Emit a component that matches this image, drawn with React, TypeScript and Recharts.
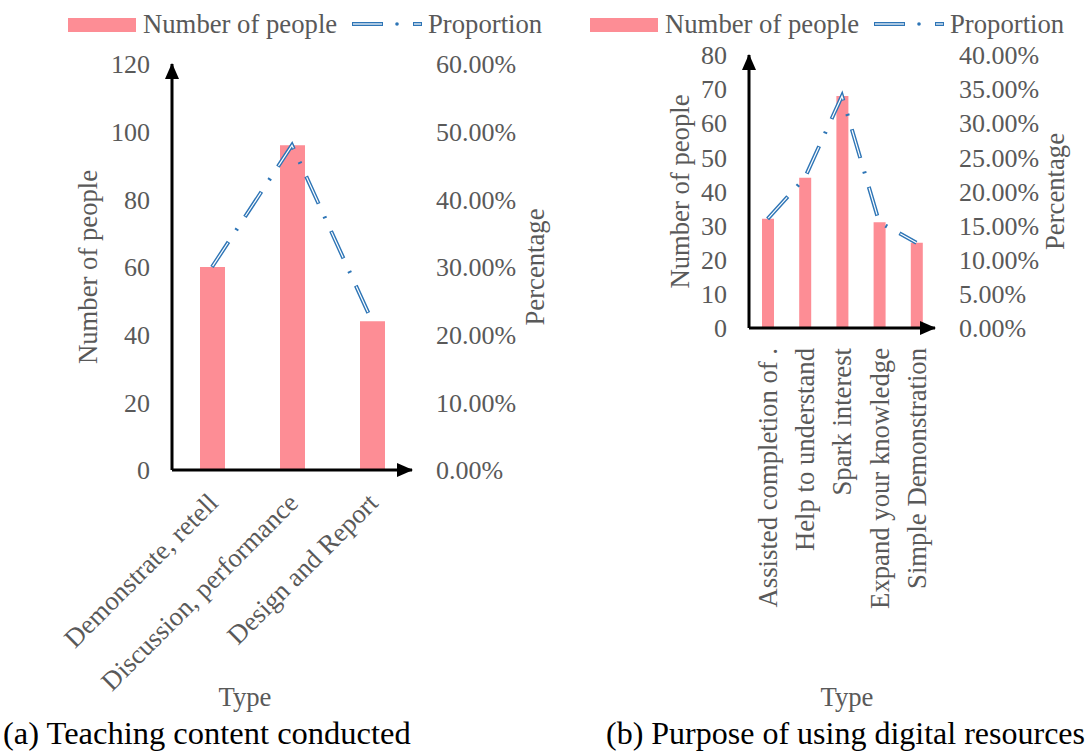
import React from "react";
import { Bar, ComposedChart, Line, XAxis, YAxis } from "recharts";

const FONT = '"Liberation Serif", "Times New Roman", serif';
const GREY = "#595959";
const PINK = "#FD8D95";
const BLUE = "#2E75B6";
const FS = 26;
const FS_TITLE = 26.7;

// panel (a)
const typesA = ["Demonstrate, retell", "Discussion, performance", "Design and Report"];
const peopleA = [60, 96, 44];
const shareA = [0.3, 0.48, 0.22];
const leftTicksA = [0, 20, 40, 60, 80, 100, 120];
const rightTicksA = [0, 0.1, 0.2, 0.3, 0.4, 0.5, 0.6];

// panel (b)
const typesB = [
  "Assisted completion of .",
  "Help to understand",
  "Spark interest",
  "Expand your knowledge",
  "Simple Demonstration",
];
const peopleB = [32, 44, 68, 31, 25];
const shareB = [0.16, 0.22, 0.34, 0.155, 0.125];
const leftTicksB = [0, 10, 20, 30, 40, 50, 60, 70, 80];
const rightTicksB = [0, 0.05, 0.1, 0.15, 0.2, 0.25, 0.3, 0.35, 0.4];

const pct = (v: number) => `${(v * 100).toFixed(2)}%`;
const textStyle = { fill: GREY, fontSize: FS, fontFamily: FONT };
const titleStyle = { fill: GREY, fontSize: FS_TITLE, fontFamily: FONT };

const vLabel = (text: string, dx: number) => (props: any) => {
  const { x, y, width, height } = props.viewBox;
  const cx = x + width / 2 + dx;
  const cy = y + height / 2;
  return (
    <text
      x={cx}
      y={cy}
      transform={`rotate(-90 ${cx} ${cy})`}
      textAnchor="middle"
      dominantBaseline="central"
      {...titleStyle}
    >
      {text}
    </text>
  );
};

const typeLabel = (dx: number) => (props: any) => {
  const { x, y, width, height } = props.viewBox;
  return (
    <text x={x + width / 2 + dx} y={y + height - 4} textAnchor="middle" {...titleStyle}>
      Type
    </text>
  );
};

const TickA = (props: any) => {
  const x = props.x + 1;
  const y = props.y + 20;
  return (
    <text x={x} y={y} transform={`rotate(-45 ${x} ${y})`} textAnchor="end" dy="0.35em" {...titleStyle}>
      {props.payload.value}
    </text>
  );
};

const TickB = (props: any) => {
  const x = props.x;
  const y = props.y + 12;
  return (
    <text x={x} y={y} transform={`rotate(-90 ${x} ${y})`} textAnchor="end" dy="0.35em" {...titleStyle}>
      {props.payload.value}
    </text>
  );
};

interface PanelProps {
  id: string;
  types: string[];
  people: number[];
  share: number[];
  leftTicks: number[];
  rightTicks: number[];
  width: number;
  top: number;
  leftW: number;
  rightW: number;
  xH: number;
  barSize: number;
  tick: any;
  leftDx: number;
  rightDx: number;
  typeDx: number;
}

function Panel(p: PanelProps) {
  const data = p.types.map((t, i) => ({ type: t, people: p.people[i], share: p.share[i] }));
  return (
    <ComposedChart
      width={p.width}
      height={751}
      data={data}
      margin={{ top: p.top, right: 0, bottom: 41, left: 0 }}
    >
      <defs>
        <marker
          id={`arrow-${p.id}`}
          viewBox="0 0 16 14"
          refX={15}
          refY={7}
          markerWidth={16}
          markerHeight={14}
          markerUnits="userSpaceOnUse"
          orient="auto-start-reverse"
        >
          <path d="M0,0 L16,7 L0,14 z" fill="#000" />
        </marker>
      </defs>
      <XAxis
        dataKey="type"
        height={p.xH}
        interval={0}
        tickLine={false}
        axisLine={{ stroke: "#000", strokeWidth: 3, markerEnd: `url(#arrow-${p.id})` }}
        tick={p.tick}
        label={typeLabel(p.typeDx)}
      />
      <YAxis
        yAxisId="left"
        width={p.leftW}
        domain={[0, p.leftTicks[p.leftTicks.length - 1]]}
        ticks={p.leftTicks}
        interval={0}
        tickLine={false}
        tickSize={0}
        tickMargin={22}
        axisLine={{ stroke: "#000", strokeWidth: 3, markerStart: `url(#arrow-${p.id})` }}
        tick={textStyle}
        label={vLabel("Number of people", p.leftDx)}
      />
      <YAxis
        yAxisId="right"
        orientation="right"
        width={p.rightW}
        domain={[0, p.rightTicks[p.rightTicks.length - 1]]}
        ticks={p.rightTicks}
        interval={0}
        tickLine={false}
        tickSize={0}
        tickMargin={24}
        axisLine={false}
        tickFormatter={pct}
        tick={{ ...textStyle, textAnchor: "start" }}
        label={vLabel("Percentage", p.rightDx)}
      />
      <Bar yAxisId="left" dataKey="people" fill={PINK} barSize={p.barSize} isAnimationActive={false} />
      <Line
        yAxisId="right"
        dataKey="share"
        type="linear"
        stroke={BLUE}
        strokeWidth={4}
        strokeDasharray="30 14 2 14"
        dot={false}
        activeDot={false}
        isAnimationActive={false}
      />
      <Line
        yAxisId="right"
        dataKey="share"
        type="linear"
        stroke="#fff"
        strokeWidth={1.2}
        strokeDasharray="28 32"
        strokeDashoffset={-1}
        dot={false}
        activeDot={false}
        isAnimationActive={false}
      />
    </ComposedChart>
  );
}

function LegendItems({ x }: { x: number }) {
  return (
    <g>
      <rect x={x} y={18} width={68} height={14} fill={PINK} />
      <text x={x + 75} y={33} {...titleStyle}>
        Number of people
      </text>
      <g transform={`translate(${x + 284}, 24)`}>
        <line x1={0} y1={0} x2={31} y2={0} stroke={BLUE} strokeWidth={4} />
        <line x1={1} y1={0} x2={30} y2={0} stroke="#fff" strokeWidth={1.2} />
        <circle cx={45} cy={0} r={1.8} fill={BLUE} />
        <line x1={61} y1={0} x2={70} y2={0} stroke={BLUE} strokeWidth={4} />
        <line x1={62} y1={0} x2={69} y2={0} stroke="#fff" strokeWidth={1.2} />
      </g>
      <text x={x + 360} y={33} {...titleStyle}>
        Proportion
      </text>
    </g>
  );
}

export default function App() {
  return (
    <div style={{ position: "absolute", left: 0, top: 0, width: 1089, height: 751, background: "#fff" }}>
      <div style={{ position: "absolute", left: 0, top: 0 }}>
        <Panel
          id="a"
          types={typesA}
          people={peopleA}
          share={shareA}
          leftTicks={leftTicksA}
          rightTicks={rightTicksA}
          width={560}
          top={64}
          leftW={172}
          rightW={148}
          xH={240}
          barSize={25}
          tick={TickA}
          leftDx={2}
          rightDx={49}
          typeDx={-47}
        />
      </div>
      <div style={{ position: "absolute", left: 560, top: 0 }}>
        <Panel
          id="b"
          types={typesB}
          people={peopleB}
          share={shareB}
          leftTicks={leftTicksB}
          rightTicks={rightTicksB}
          width={529}
          top={55}
          leftW={189}
          rightW={154}
          xH={382}
          barSize={12}
          tick={TickB}
          leftDx={25}
          rightDx={43}
          typeDx={5}
        />
      </div>
      <svg
        width={1089}
        height={751}
        style={{ position: "absolute", left: 0, top: 0, pointerEvents: "none" }}
      >
        <LegendItems x={68} />
        <LegendItems x={590} />
        <text x={3} y={744} fontFamily={FONT} fontSize={32.5} fill="#000">
          (a) Teaching content conducted
        </text>
        <text x={606} y={744} fontFamily={FONT} fontSize={32} fill="#000">
          (b) Purpose of using digital resources
        </text>
      </svg>
    </div>
  );
}
